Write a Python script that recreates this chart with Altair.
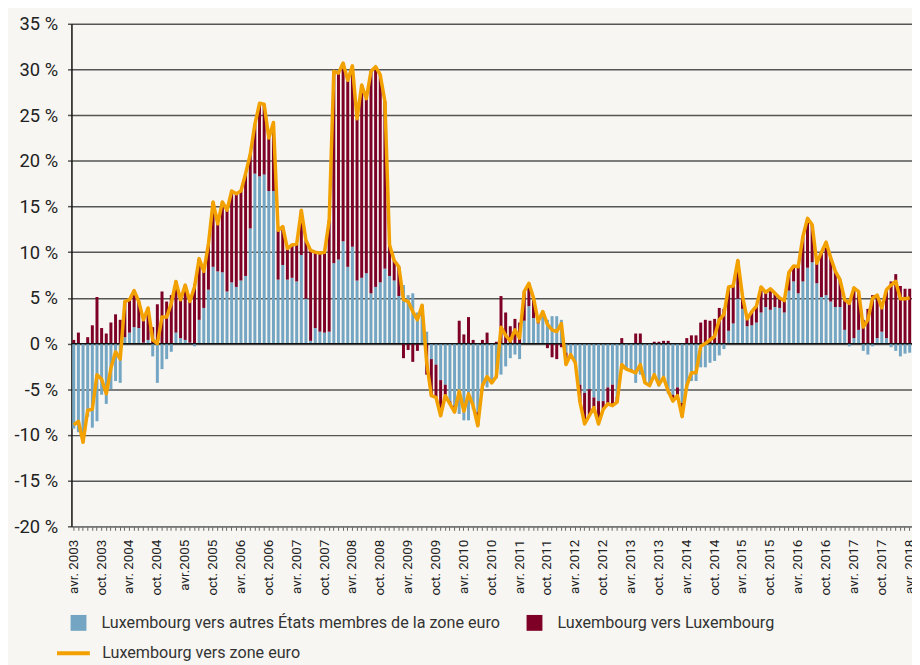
import altair as alt
import pandas as pd

# Luxembourg vers autres États membres de la zone euro (blue bars), % by month, avr. 2003 .. avr. 2018
blue = [
    -9.3, -9.7, -10.8, -8.0, -9.2, -8.5, -5.6, -6.6, -5.0, -4.1,
    -4.3, 0.7, 1.2, 1.8, 1.7, 0.1, 0.4, -1.4, -4.3, -2.8,
    -1.7, -0.9, 1.2, 0.6, 0.4, 0.1, -0.3, 2.6, 3.9, 5.9,
    8.4, 7.9, 7.8, 5.7, 6.7, 6.2, 6.9, 7.4, 12.6, 18.6,
    18.3, 18.5, 16.7, 16.7, 7.0, 8.6, 7.0, 7.2, 6.8, 9.7,
    4.9, 0.3, 1.7, 1.3, 1.2, 1.3, 8.8, 9.2, 11.2, 8.4,
    10.6, 6.9, 7.2, 7.7, 5.5, 6.2, 6.7, 8.2, 7.4, 6.9,
    5.2, 6.4, 5.3, 5.5, 3.4, 3.0, 1.3, -1.7, -2.3, -4.0,
    -4.5, -6.3, -6.8, -7.7, -8.4, -8.4, -7.2, -7.5, -5.0, -4.8,
    -4.3, -3.8, -3.4, -2.5, -1.6, -1.2, -1.7, 2.5, 4.1, 2.8,
    2.2, 3.0, 2.6, 3.0, 3.0, 2.6, -1.0, -1.2, -2.0, -4.5,
    -5.4, -5.0, -5.9, -6.3, -6.3, -4.8, -4.5, -5.8, -2.9, -2.8,
    -2.8, -4.3, -3.4, -4.2, -4.6, -3.6, -4.7, -4.0, -5.5, -5.6,
    -4.8, -6.5, -5.2, -4.1, -4.1, -2.6, -2.6, -2.1, -1.9, -1.3,
    -0.6, 1.4, 2.2, 4.9, 3.8, 1.9, 2.0, 2.3, 3.4, 4.0,
    3.7, 4.0, 3.9, 3.4, 5.8, 6.8, 5.5, 6.8, 8.3, 8.9,
    6.6, 5.1, 5.3, 4.6, 4.0, 4.0, 1.5, -0.3, 0.6, 1.5,
    -0.8, -1.2, -0.3, 0.6, 1.3, 0.6, -0.4, -0.8, -1.4, -1.1,
    -1.0,
]

# Luxembourg vers zone euro (orange line), % by month
total = [
    -8.9, -8.5, -10.8, -7.3, -7.2, -3.4, -3.9, -5.5, -2.7, -0.9,
    -1.7, 4.6, 4.8, 5.8, 4.6, 2.6, 3.9, 0.4, 0.0, 2.9,
    2.9, 4.4, 6.8, 4.8, 6.4, 4.6, 6.2, 9.3, 7.9, 10.9,
    15.5, 13.1, 15.5, 14.6, 16.7, 16.4, 16.7, 18.6, 20.7, 24.0,
    26.3, 26.2, 22.5, 24.2, 12.4, 12.8, 10.4, 10.8, 10.9, 14.6,
    11.3, 10.2, 10.0, 9.9, 10.0, 13.5, 29.8, 29.6, 30.7, 28.8,
    30.4, 24.6, 28.3, 26.8, 29.8, 30.3, 29.4, 26.5, 10.8, 9.1,
    8.4, 4.8, 4.6, 3.5, 2.6, 4.2, -2.1, -5.7, -5.9, -7.9,
    -5.7, -6.6, -7.5, -5.2, -7.4, -5.5, -6.8, -9.0, -4.6, -3.6,
    -4.3, -3.6, 1.8, 0.9, 0.3, 1.5, 0.6, 5.7, 6.6, 5.0,
    2.4, 3.5, 2.1, 1.5, 1.3, 2.2, -2.3, -1.2, -2.1, -6.4,
    -8.8, -7.9, -7.0, -8.8, -7.2, -6.6, -6.8, -6.4, -2.3, -2.8,
    -3.0, -3.2, -2.3, -4.3, -4.6, -3.4, -4.5, -3.7, -5.2, -6.3,
    -5.7, -8.0, -4.6, -3.2, -3.2, -0.3, 0.0, 0.4, 0.8, 2.6,
    3.2, 6.2, 6.3, 9.1, 5.2, 2.7, 3.5, 4.1, 6.2, 5.6,
    6.0, 5.5, 5.0, 4.7, 7.8, 8.5, 8.4, 11.7, 13.7, 13.0,
    8.8, 10.0, 11.1, 9.4, 7.9, 7.0, 4.8, 4.4, 6.1, 5.7,
    1.8, 2.6, 5.0, 5.3, 3.9, 5.9, 6.4, 6.8, 4.9, 4.9,
    5.0,
]

tick_labels = [
    "avr. 2003", "oct. 2003", "avr. 2004", "oct. 2004", "avr.2005", "oct. 2005",
    "avr. 2006", "oct. 2006", "avr. 2007", "oct. 2007", "avr. 2008", "oct. 2008",
    "avr. 2009", "oct. 2009", "avr. 2010", "oct. 2010", "avr. 2011", "oct. 2011",
    "avr. 2012", "oct. 2012", "avr. 2013", "oct. 2013", "avr. 2014", "oct. 2014",
    "avr. 2015", "oct. 2015", "avr. 2016", "oct. 2016", "avr. 2017", "oct. 2017",
    "avr. 2018",
]
series_names = [
    "Luxembourg vers autres États membres de la zone euro",
    "Luxembourg vers Luxembourg",
    "Luxembourg vers zone euro",
]
colors = ["#74A6C3", "#7E0027", "#F2A100"]
y_ticks = list(range(-20, 40, 5))

n = len(total)
# Luxembourg vers Luxembourg = zone euro total minus the other-member-states part
red = [round(t - b, 2) for t, b in zip(total, blue)]

bars_df = pd.DataFrame({
    "i": list(range(n)) * 2,
    "v": blue + red,
    "s": [series_names[0]] * n + [series_names[1]] * n,
    "o": [0] * n + [1] * n,
})
line_df = pd.DataFrame({"i": list(range(n)), "v": total, "s": [series_names[2]] * n})
zero_df = pd.DataFrame({"z": [0]})

FONT = "Roboto"
label_js = "[" + ",".join("'%s'" % l for l in tick_labels) + "]"

x_enc = alt.X(
    "i:O",
    scale=alt.Scale(paddingInner=0.36, paddingOuter=0.18),
    axis=alt.Axis(
        title=None,
        labelExpr=f"datum.value % 6 == 0 ? {label_js}[datum.value / 6] : ''",
        labelAngle=270,
        labelAlign="right",
        labelBaseline="middle",
        labelOverlap=False,
        labelPadding=9,
        labelFontSize=13.5,
        labelFont=FONT,
        labelColor="#222222",
        tickSize=4,
        tickColor="#666666",
        tickWidth=1,
        domainColor="#777777",
        domainWidth=1.5,
        grid=False,
    ),
)

y_scale = alt.Scale(domain=[-20, 35], nice=False)
y_axis = alt.Axis(
    title=None,
    values=y_ticks,
    labelExpr="datum.value + ' %'",
    grid=True,
    gridColor="#555555",
    gridWidth=1.5,
    domain=True,
    domainColor="#111111",
    domainWidth=1.5,
    tickSize=4,
    tickColor="#555555",
    tickWidth=1.5,
    labelPadding=10,
    labelFontSize=18.5,
    labelFont=FONT,
    labelColor="#222222",
)

bars = alt.Chart(bars_df).mark_bar().encode(
    x=x_enc,
    y=alt.Y("v:Q", stack="zero", scale=y_scale, axis=y_axis),
    color=alt.Color(
        "s:N",
        scale=alt.Scale(domain=series_names[:2], range=colors[:2]),
        legend=alt.Legend(
            title=None,
            orient="none",
            legendX=-1,
            legendY=596,
            direction="horizontal",
            symbolType="square",
            symbolSize=256,
            symbolStrokeWidth=0,
            symbolOpacity=1,
            labelFontSize=16.3,
            labelFont=FONT,
            labelColor="#333333",
            labelOffset=15,
            labelLimit=600,
            columnPadding=26,
            padding=0,
        ),
    ),
    order=alt.Order("o:Q"),
)

zero_rule = alt.Chart(zero_df).mark_rule(color="#111111", strokeWidth=1.2).encode(
    y=alt.Y("z:Q", scale=y_scale)
)

line = alt.Chart(line_df).mark_line(strokeWidth=3.5, strokeJoin="round").encode(
    x=x_enc,
    y=alt.Y("v:Q", stack=None, scale=y_scale),
    stroke=alt.Stroke(
        "s:N",
        scale=alt.Scale(domain=[series_names[2]], range=[colors[2]]),
        legend=alt.Legend(
            title=None,
            orient="none",
            legendX=-17,
            legendY=616,
            symbolType="stroke",
            symbolSize=1100,
            symbolStrokeWidth=4,
            labelFontSize=16.3,
            labelFont=FONT,
            labelColor="#333333",
            labelOffset=10,
            labelLimit=600,
            padding=0,
        ),
    ),
)

chart = alt.layer(bars, zero_rule, line).properties(
    width=848,
    height=507,
    autosize=alt.AutoSizeParams(type="none"),
    padding={"left": 64, "top": 13, "right": 0, "bottom": 137},
).configure(
    background="#F7F6F2",
    font=FONT,
).configure_view(stroke=None)

chart.save("out.html", embed_options={"renderer": "svg", "actions": False})
